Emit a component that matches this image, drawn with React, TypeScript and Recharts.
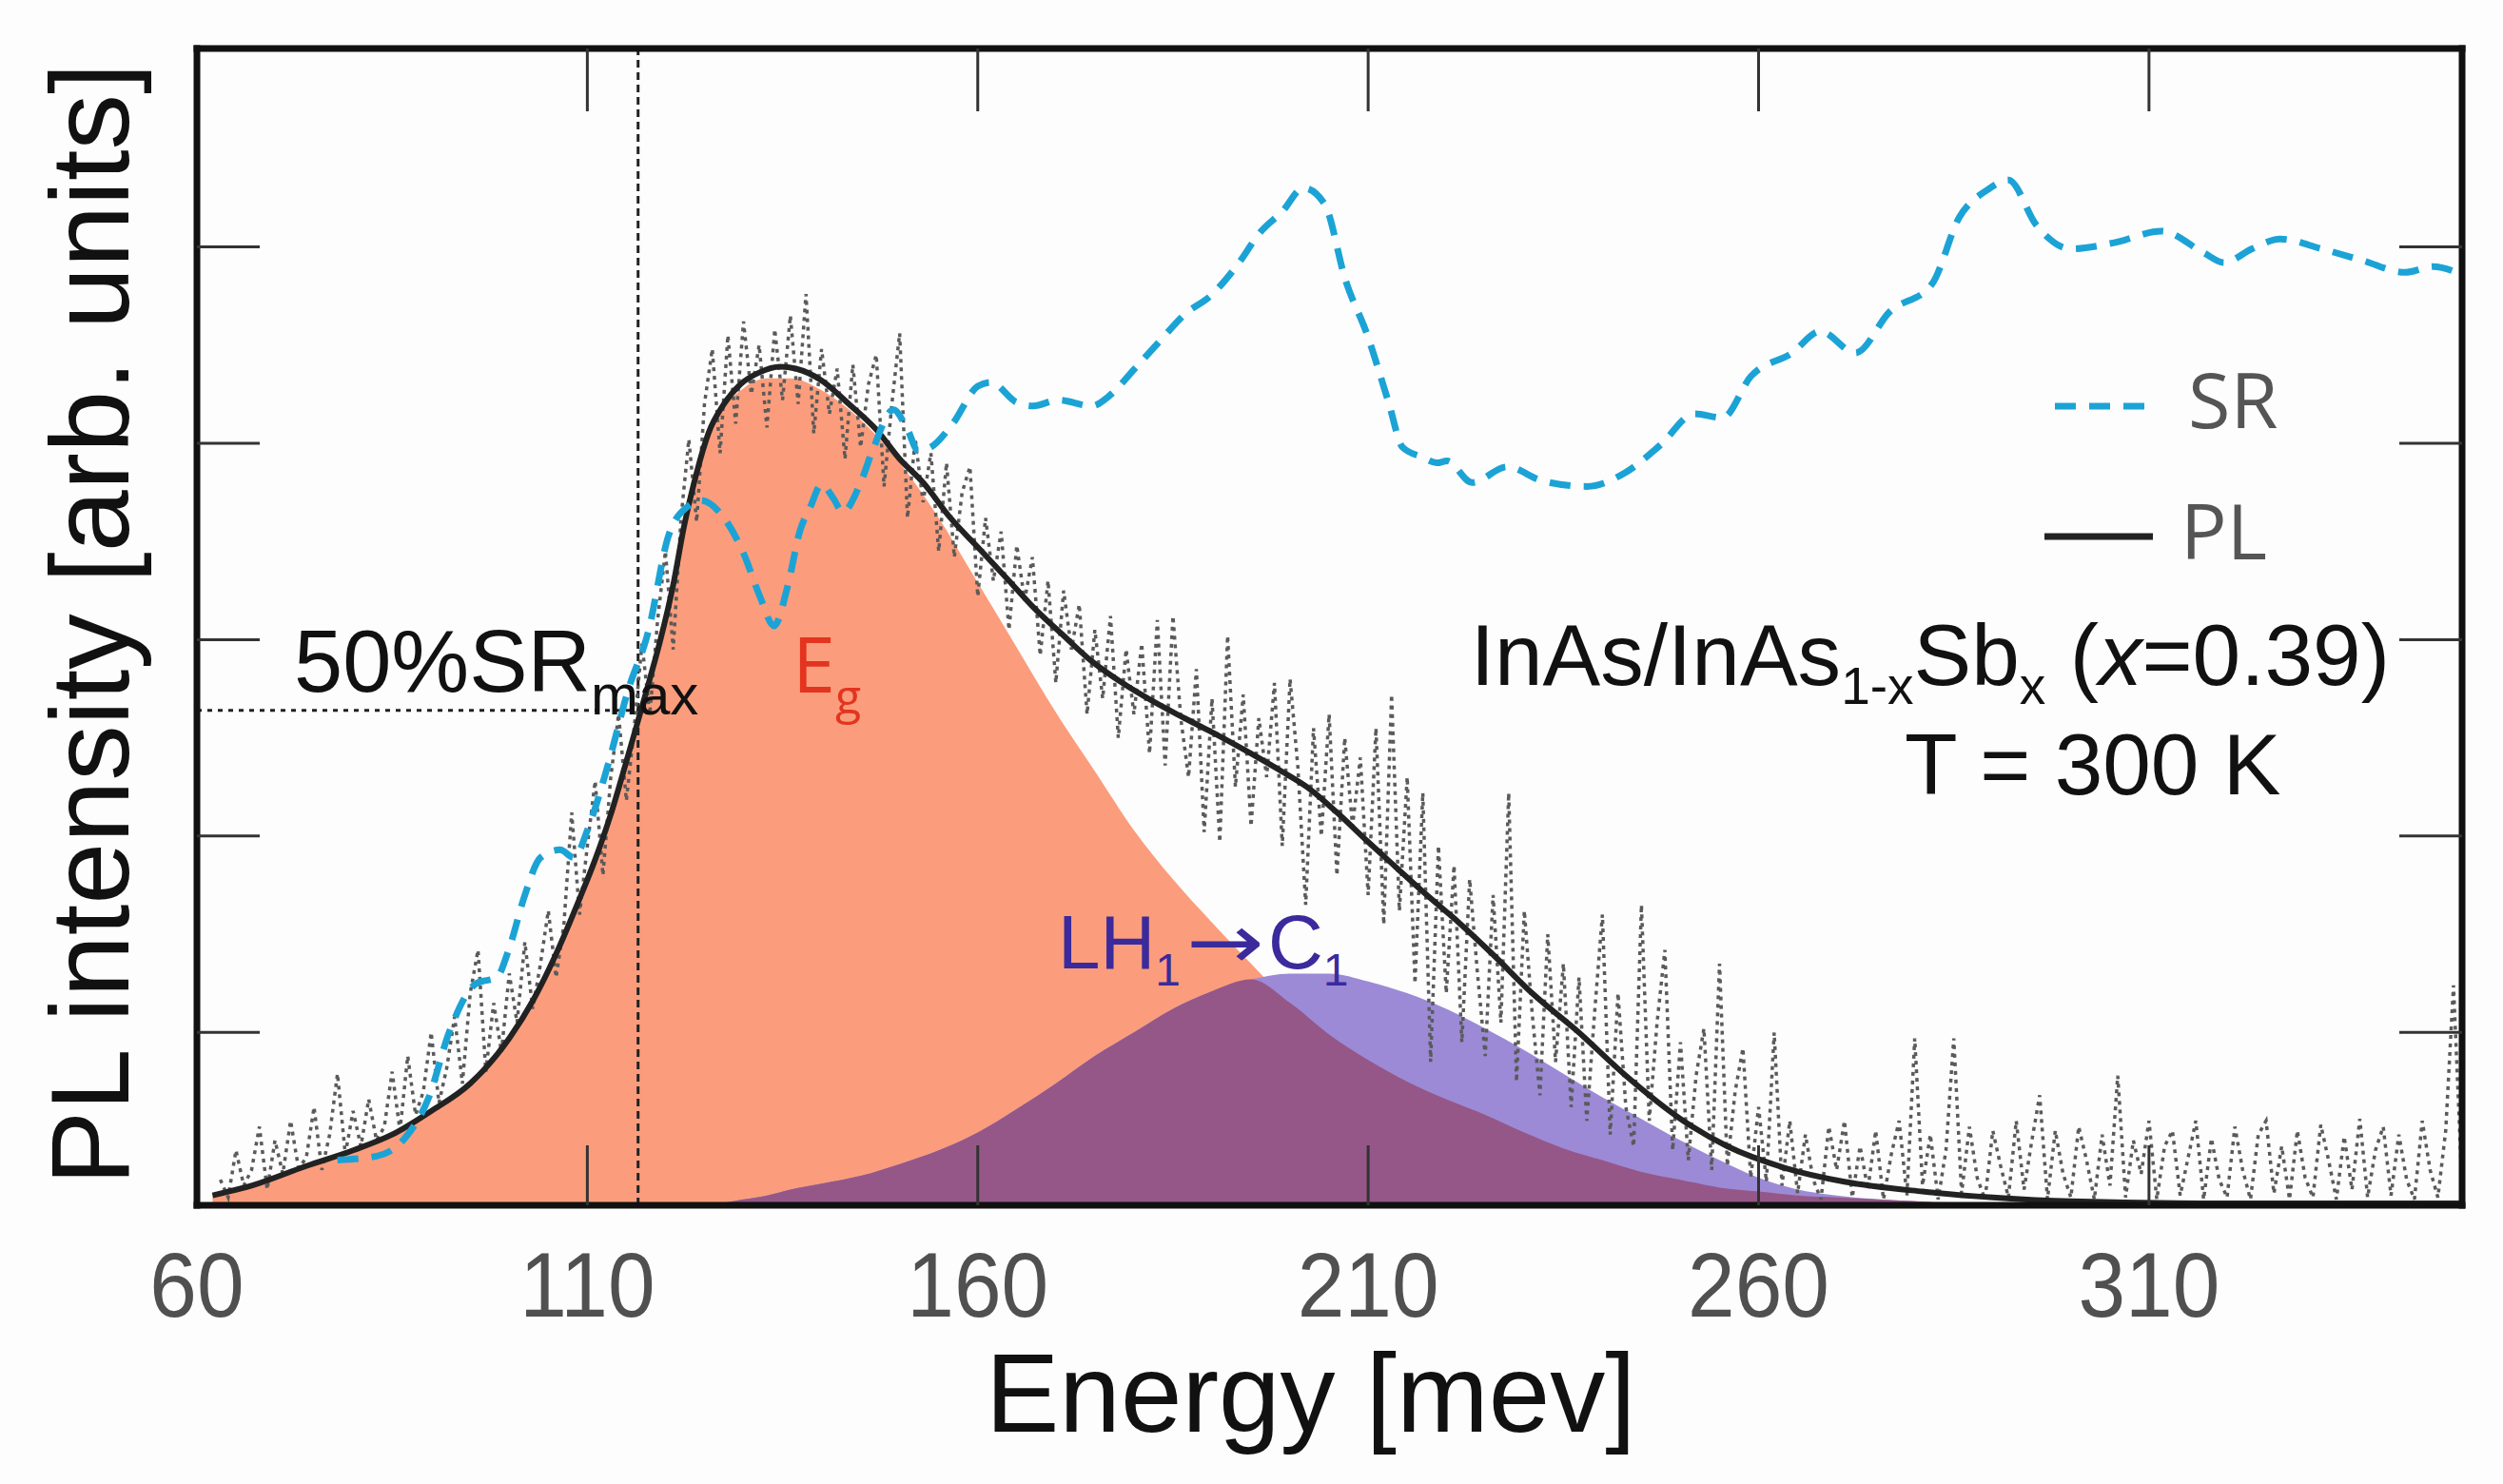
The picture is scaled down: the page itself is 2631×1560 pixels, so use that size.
import { ComposedChart, XAxis, YAxis, Area, Line, ReferenceLine } from "recharts";

// energies in meV, intensity in arb. units (one unit = one y tick step)
const energyTicks = [60, 110, 160, 210, 260, 310];
const innerTicks = [110, 160, 210, 260, 310];
const intensityTicks = [1, 2, 3, 4, 5];
const xDomain: [number, number] = [60, 350.1];
const yDomain: [number, number] = [0.12, 6.01];

// Gaussian components of the fit (shared energy grid)
const compEnergy = [62, 70, 80, 90, 95, 100, 103, 106, 109, 112, 115, 118, 121, 124, 127, 130, 133, 136, 140, 145, 150, 155, 160, 165, 170, 175, 180, 185, 190, 195, 200, 205, 210, 215, 220, 225, 230, 235, 240, 245, 250, 255, 260, 265, 270, 280, 290, 300, 350];
const egFit = [0.17, 0.26, 0.4, 0.6, 0.74, 0.97, 1.16, 1.4, 1.68, 2.0, 2.38, 2.8, 3.28, 3.83, 4.15, 4.28, 4.33, 4.33, 4.27, 4.12, 3.9, 3.62, 3.29, 2.96, 2.63, 2.33, 2.03, 1.78, 1.56, 1.35, 1.15, 0.99, 0.86, 0.75, 0.66, 0.58, 0.49, 0.41, 0.35, 0.29, 0.25, 0.21, 0.19, 0.17, 0.16, 0.14, 0.13, 0.12, 0.12];
const lhFit = [0.12, 0.12, 0.12, 0.12, 0.12, 0.12, 0.12, 0.12, 0.12, 0.12, 0.12, 0.12, 0.12, 0.125, 0.13, 0.15, 0.17, 0.2, 0.23, 0.27, 0.33, 0.4, 0.49, 0.61, 0.74, 0.88, 1.0, 1.12, 1.21, 1.27, 1.3, 1.3, 1.26, 1.2, 1.12, 1.02, 0.91, 0.79, 0.67, 0.56, 0.45, 0.35, 0.26, 0.2, 0.17, 0.14, 0.12, 0.12, 0.12];

// total PL fit [energy, intensity]
const plFit: [number, number][] = [
  [62, 0.17], [67, 0.22], [74, 0.32], [80, 0.4], [85, 0.48], [90, 0.6], [95, 0.74], [100, 0.97],
  [103, 1.16], [106, 1.4], [109, 1.68], [111, 1.88], [113, 2.11], [115, 2.38], [116.3, 2.56],
  [118, 2.8], [119.3, 2.99], [121, 3.28], [122.4, 3.58], [124, 3.85], [125.5, 4.05], [127.5, 4.2],
  [129.6, 4.3], [132, 4.36], [134.7, 4.39], [136.7, 4.38], [140, 4.32], [143.5, 4.2], [147, 4.07],
  [150, 3.92], [153, 3.8], [156.5, 3.62], [160.5, 3.45], [164, 3.3], [167, 3.17], [171, 3.02],
  [174.6, 2.89], [178.5, 2.78], [182.7, 2.68], [186.5, 2.6], [190.9, 2.51], [195, 2.42],
  [198.9, 2.33], [202.5, 2.24], [206, 2.12], [210, 1.97], [213.6, 1.84], [217.5, 1.7],
  [221.6, 1.56], [225.9, 1.4], [231, 1.2], [236.7, 1.01], [243, 0.78], [250, 0.56], [256, 0.42],
  [263.4, 0.31], [271, 0.24], [281, 0.19], [290, 0.16], [300, 0.14], [320, 0.13], [350, 0.13],
];

// spectral response [energy, intensity]
const srCurve: [number, number][] = [
  [78, 0.35], [83, 0.37], [86.6, 0.46], [89.7, 0.67], [92.3, 1.0], [95.8, 1.25], [98.4, 1.28],
  [100, 1.43], [102, 1.7], [104, 1.89], [106.5, 1.93], [108.3, 1.89], [110.1, 2.04], [112.7, 2.37],
  [115.2, 2.74], [117.8, 3.04], [120.4, 3.53], [122.9, 3.68], [124.5, 3.71], [127.5, 3.62],
  [130, 3.44], [132.1, 3.22], [133.9, 3.07], [135.7, 3.28], [137.2, 3.55], [138.6, 3.68],
  [140, 3.79], [141.5, 3.72], [142.7, 3.65], [144.9, 3.79], [146.5, 3.96], [149.2, 4.17],
  [151, 4.07], [152.4, 3.96], [154, 3.98], [156.8, 4.1], [160, 4.29], [161.7, 4.31], [164.9, 4.21],
  [167.1, 4.19], [170.3, 4.22], [174.6, 4.19], [176.8, 4.24], [180.1, 4.38], [183.3, 4.52],
  [186.6, 4.66], [189.8, 4.75], [193.1, 4.9], [196.3, 5.08], [199, 5.18], [201.7, 5.3],
  [204.4, 5.22], [207.1, 4.83], [209.9, 4.55], [212.6, 4.21], [214.4, 3.98], [216.9, 3.93],
  [218.8, 3.9], [220.1, 3.91], [223.3, 3.8], [227.8, 3.88], [232.2, 3.81], [238, 3.78],
  [242.9, 3.85], [247.4, 3.99], [251.8, 4.15], [255.4, 4.13], [259, 4.34], [264.3, 4.46],
  [267.9, 4.57], [272.4, 4.46], [276.8, 4.67], [282.2, 4.81], [285.7, 5.15], [289.3, 5.29],
  [292, 5.34], [295.6, 5.11], [300, 4.99], [305.4, 5.02], [311.6, 5.08], [317, 4.97],
  [319.6, 4.92], [323.2, 4.99], [326.8, 5.04], [332.1, 4.99], [337.4, 4.93], [342.8, 4.87],
  [346.4, 4.9], [350, 4.86],
];

// measured PL spectrum (noisy) [energy, intensity]
const plRaw: [number, number][] = [
  [63, 0.25], [64, 0.16], [65, 0.4], [66, 0.22], [67, 0.3], [68, 0.52], [69, 0.2], [70, 0.45],
  [71, 0.28], [72, 0.55], [73, 0.31], [74, 0.36], [75, 0.62], [76, 0.3], [77, 0.48], [78, 0.79],
  [79, 0.38], [80, 0.6], [81, 0.42], [82, 0.66], [83, 0.45], [84, 0.52], [85, 0.8], [86, 0.5],
  [87, 0.88], [88, 0.58], [89, 0.7], [90, 1.0], [91, 0.64], [92, 0.82], [93, 1.08], [94, 0.74],
  [95, 1.2], [96, 1.42], [97, 0.8], [98, 1.15], [99, 0.9], [100, 1.3], [101, 1.05], [102, 1.46],
  [103, 1.12], [104, 1.35], [105, 1.62], [106, 1.28], [107, 1.55], [108, 2.12], [109, 1.6],
  [110, 1.95], [111, 2.28], [112, 1.8], [113, 2.3], [114, 2.62], [115, 2.18], [116, 2.55],
  [117, 2.98], [118, 2.62], [119, 3.1], [120, 3.45], [121, 2.95], [122, 3.62], [123, 4.02],
  [124, 3.6], [125, 4.2], [126, 4.48], [127, 3.95], [128, 4.55], [129, 4.1], [130, 4.62],
  [131, 4.25], [132, 4.5], [133, 4.08], [134, 4.58], [135, 4.22], [136, 4.65], [137, 4.2],
  [138, 4.76], [139, 4.05], [140, 4.48], [141, 4.15], [142, 4.38], [143, 3.92], [144, 4.4],
  [145, 3.98], [146, 4.3], [147, 4.45], [148, 3.78], [149, 4.2], [150, 4.56], [151, 3.62],
  [152, 4.02], [153, 3.7], [154, 3.95], [155, 3.45], [156, 3.9], [157, 3.42], [158, 3.75],
  [159, 3.88], [160, 3.22], [161, 3.62], [162, 3.3], [163, 3.55], [164, 3.05], [165, 3.48],
  [166, 3.2], [167, 3.42], [168, 2.92], [169, 3.3], [170, 2.78], [171, 3.25], [172, 2.95],
  [173, 3.18], [174, 2.62], [175, 3.05], [176, 2.7], [177, 3.12], [178, 2.5], [179, 2.95],
  [180, 2.62], [181, 2.98], [182, 2.42], [183, 3.1], [184, 2.36], [185, 3.12], [186, 2.6],
  [187, 2.3], [188, 2.85], [189, 2.02], [190, 2.7], [191, 1.97], [192, 3.02], [193, 2.25],
  [194, 2.72], [195, 2.05], [196, 2.6], [197, 2.3], [198, 2.78], [199, 1.95], [200, 2.8],
  [201, 2.35], [202, 1.65], [203, 2.55], [204, 2.0], [205, 2.62], [206, 1.8], [207, 2.5],
  [208, 2.05], [209, 2.4], [210, 1.7], [211, 2.55], [212, 1.55], [213, 2.72], [214, 1.62],
  [215, 2.3], [216, 1.25], [217, 2.22], [218, 0.85], [219, 1.95], [220, 1.2], [221, 1.85],
  [222, 0.95], [223, 1.78], [224, 1.3], [225, 0.88], [226, 1.7], [227, 1.05], [228, 2.22],
  [229, 0.75], [230, 1.62], [231, 1.1], [232, 0.68], [233, 1.5], [234, 0.85], [235, 1.35],
  [236, 0.62], [237, 1.28], [238, 0.55], [239, 1.1], [240, 1.6], [241, 0.48], [242, 1.2],
  [243, 0.62], [244, 0.42], [245, 1.65], [246, 0.55], [247, 1.05], [248, 1.42], [249, 0.4],
  [250, 0.95], [251, 0.35], [252, 0.78], [253, 1.02], [254, 0.3], [255, 1.35], [256, 0.32],
  [257, 0.7], [258, 0.92], [259, 0.26], [260, 0.62], [261, 0.24], [262, 1.0], [263, 0.22],
  [264, 0.55], [265, 0.18], [266, 0.48], [267, 0.25], [268, 0.15], [269, 0.52], [270, 0.3],
  [271, 0.55], [272, 0.16], [273, 0.42], [274, 0.2], [275, 0.5], [276, 0.15], [277, 0.38],
  [278, 0.55], [279, 0.17], [280, 0.97], [281, 0.22], [282, 0.48], [283, 0.15], [284, 0.4],
  [285, 0.97], [286, 0.18], [287, 0.52], [288, 0.26], [289, 0.15], [290, 0.5], [291, 0.32],
  [292, 0.16], [293, 0.55], [294, 0.2], [295, 0.45], [296, 0.68], [297, 0.15], [298, 0.5],
  [299, 0.28], [300, 0.16], [301, 0.52], [302, 0.35], [303, 0.15], [304, 0.48], [305, 0.22],
  [306, 0.78], [307, 0.16], [308, 0.45], [309, 0.28], [310, 0.55], [311, 0.15], [312, 0.42],
  [313, 0.5], [314, 0.17], [315, 0.36], [316, 0.55], [317, 0.15], [318, 0.46], [319, 0.25],
  [320, 0.16], [321, 0.52], [322, 0.3], [323, 0.15], [324, 0.48], [325, 0.55], [326, 0.18],
  [327, 0.42], [328, 0.15], [329, 0.5], [330, 0.26], [331, 0.16], [332, 0.53], [333, 0.35],
  [334, 0.15], [335, 0.47], [336, 0.2], [337, 0.56], [338, 0.16], [339, 0.4], [340, 0.52],
  [341, 0.17], [342, 0.48], [343, 0.25], [344, 0.15], [345, 0.55], [346, 0.3], [347, 0.16],
  [348, 0.5], [349, 1.24], [350, 0.3],
];

const SR_HALF = 2.64; // 50% of SR max
const E_CUT = 116.5; // energy where PL crosses 50% SR

const compData = compEnergy.map((e, i) => ({
  e,
  eg: egFit[i],
  lh: lhFit[i],
  both: Math.min(egFit[i], lhFit[i]),
}));
const toPoints = (arr: [number, number][]) => arr.map(([e, v]) => ({ e, v }));

const SANS = "'Liberation Sans', Arial, sans-serif";
const OPEN = "'Open Sans', 'Liberation Sans', sans-serif";
const frameLine = { stroke: "#111", strokeWidth: 7, strokeLinecap: "square" as const };
const tickStroke = { stroke: "#333", strokeWidth: 3 };
const TICK_LEN = 63;

// bottom axis is mirrored (ticks point inward), so the label is pushed below the frame
function EnergyTick(props: any) {
  const { x, y, payload } = props;
  return (
    <text
      transform={`translate(${x},${y + TICK_LEN + 117}) scale(0.93,1)`}
      textAnchor="middle"
      fontSize={96}
      fontFamily={SANS}
      fill="#505050"
    >
      {payload.value}
    </text>
  );
}

// tick marks only, no label
function NoLabel() {
  return <text />;
}

export default function App() {
  return (
    <div style={{ position: "absolute", left: 0, top: 0, width: 2631, height: 1560, background: "#fdfdfd" }}>
      <ComposedChart width={2631} height={1560} margin={{ top: 51, right: 43, bottom: 293, left: 207 }}>
        <XAxis xAxisId={0} type="number" dataKey="e" domain={xDomain} allowDataOverflow orientation="bottom" mirror
          ticks={energyTicks} interval={0} tick={<EnergyTick />} tickSize={TICK_LEN} tickMargin={0}
          tickLine={tickStroke} axisLine={frameLine} />
        <XAxis xAxisId="top" type="number" dataKey="e" domain={xDomain} allowDataOverflow orientation="top" mirror
          ticks={innerTicks} interval={0} tick={<NoLabel />} tickSize={66} tickLine={tickStroke} axisLine={frameLine} />
        <YAxis yAxisId={0} type="number" domain={yDomain} allowDataOverflow orientation="left" mirror
          ticks={intensityTicks} interval={0} tick={<NoLabel />} tickSize={66} tickLine={tickStroke} axisLine={frameLine} />
        <YAxis yAxisId="r" type="number" domain={yDomain} allowDataOverflow orientation="right" mirror width={1}
          ticks={intensityTicks} interval={0} tick={<NoLabel />} tickSize={66} tickLine={tickStroke} axisLine={frameLine} />

        <Area data={compData} dataKey="eg" type="monotone" fill="#FB9D7C" fillOpacity={1} stroke="none" isAnimationActive={false} />
        <Area data={compData} dataKey="lh" type="monotone" fill="#9C8AD6" fillOpacity={1} stroke="none" isAnimationActive={false} />
        <Area data={compData} dataKey="both" type="monotone" fill="#955788" fillOpacity={1} stroke="none" isAnimationActive={false} />

        <ReferenceLine x={E_CUT} stroke="#222" strokeWidth={3} strokeDasharray="8 5" />
        <ReferenceLine segment={[{ x: 60, y: SR_HALF }, { x: E_CUT, y: SR_HALF }]} stroke="#222" strokeWidth={3} strokeDasharray="5 6" />

        <Line data={toPoints(plRaw)} dataKey="v" type="linear" stroke="#5a5a5a" strokeWidth={3.5} strokeDasharray="4 5" dot={false} activeDot={false} isAnimationActive={false} />
        <Line data={toPoints(plFit)} dataKey="v" type="monotone" stroke="#222" strokeWidth={6} dot={false} activeDot={false} isAnimationActive={false} />
        <Line xAxisId="top" yAxisId="r" data={toPoints(srCurve)} dataKey="v" type="monotone" stroke="#1CA3D6" strokeWidth={7} strokeDasharray="22 14" dot={false} activeDot={false} isAnimationActive={false} />
      </ComposedChart>

      <svg width={2631} height={1560} style={{ position: "absolute", left: 0, top: 0, pointerEvents: "none" }}>
        <text transform="translate(135,656) rotate(-90)" textAnchor="middle" fontSize={117} fontFamily={SANS} fill="#111">
          PL intensity [arb. units]
        </text>
        <text x={1036} y={1505} fontSize={116} fontFamily={SANS} fill="#111">Energy [mev]</text>

        <text x={309} y={727} fontSize={92} fontFamily={SANS} fill="#111">
          50%SR<tspan fontSize={60} dy={24}>max</tspan>
        </text>
        <text x={833} y={728} fontSize={81} fontFamily={OPEN} fill="#E3341F">
          E<tspan fontSize={50} dy={22}>g</tspan>
        </text>
        <text x={1112} y={1018} fontSize={80} fontFamily={SANS} fill="#3B2A9C">
          LH<tspan fontSize={48} dy={18}>1</tspan>
        </text>
        <text transform="translate(1247,1018) scale(1.22,1)" fontSize={80} fontFamily="'DejaVu Sans', sans-serif" fill="#3B2A9C">→</text>
        <text x={1333} y={1018} fontSize={80} fontFamily={SANS} fill="#3B2A9C">
          C<tspan fontSize={48} dy={18}>1</tspan>
        </text>

        <line x1={2160} y1={427} x2={2257} y2={427} stroke="#1CA3D6" strokeWidth={7} strokeDasharray="22 14" />
        <text x={2300} y={450} fontSize={81} fontFamily={OPEN} fill="#555">SR</text>
        <line x1={2149} y1={564} x2={2263} y2={564} stroke="#222" strokeWidth={7} />
        <text x={2292} y={588} fontSize={81} fontFamily={OPEN} fill="#555">PL</text>

        <text x={2512} y={720} textAnchor="end" fontSize={91} fontFamily={SANS} fill="#111">
          InAs/InAs<tspan fontSize={55} dy={20}>1-x</tspan>
          <tspan dy={-20}>Sb</tspan>
          <tspan fontSize={55} dy={20}>x</tspan>
          <tspan dy={-20}> (</tspan>
          <tspan fontStyle="italic">x</tspan>=0.39)
        </text>
        <text x={2002} y={835} fontSize={91} fontFamily={SANS} fill="#111">T = 300 K</text>
      </svg>
    </div>
  );
}
